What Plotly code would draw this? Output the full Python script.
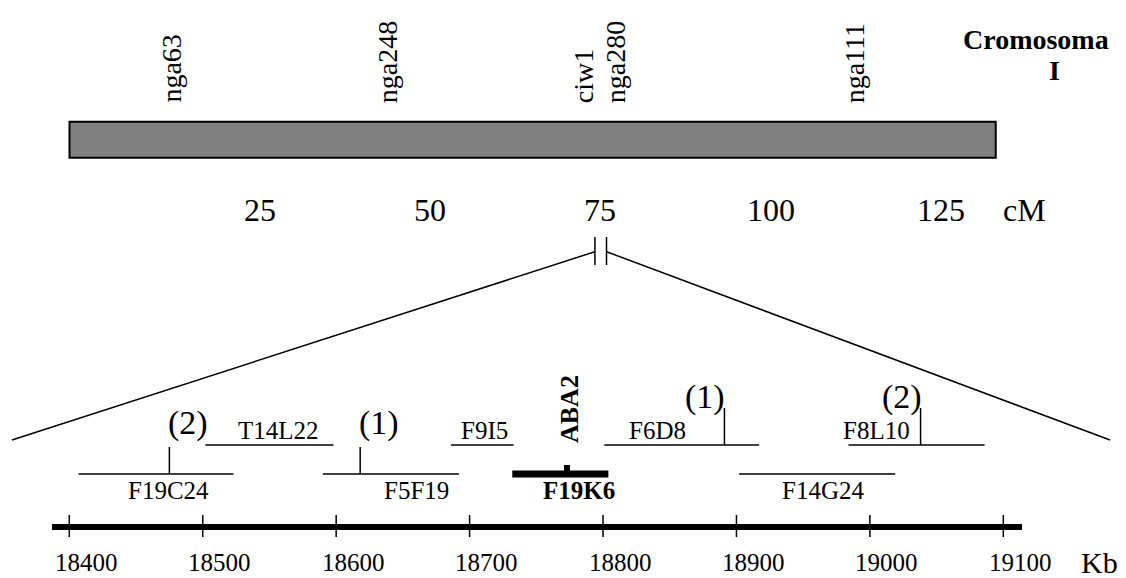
import plotly.graph_objects as go

# ---------------- Data ----------------
# Genetic map of chromosome I (cM)
CHROM_LENGTH_CM = 136
MARKER_NAMES = ["nga63", "nga248", "ciw1", "nga280", "nga111"]
MARKER_CM = [14.4, 46.2, 75.0, 79.7, 114.8]
CM_TICKS = [25, 50, 75, 100, 125]
BREAK_CM = 78.0

# Physical map (Kb)
KB_TICKS = [18400, 18500, 18600, 18700, 18800, 18900, 19000, 19100]
KB_AXIS = [18387, 19114]
ZOOM_KB = [18357, 19180]

UPPER_CLONES = ["T14L22", "F9I5", "F6D8", "F8L10"]
UPPER_START = [18502, 18686, 18801, 18984]
UPPER_END = [18598, 18733, 18917, 19086]
UPPER_LABEL_KB = [18557, 18711, 18841, 19005]

LOWER_CLONES = ["F19C24", "F5F19", "F19K6", "F14G24"]
LOWER_START = [18407, 18590, 18732, 18902]
LOWER_END = [18523, 18692, 18804, 19019]
LOWER_LABEL_KB = [18474, 18660, 18782, 18965]
LOWER_BOLD = [False, False, True, False]

RECOMB_LABELS = ["(2)", "(1)", "(1)", "(2)"]
RECOMB_KB = [18475, 18618, 18891, 19038]
RECOMB_ROW = ["lower", "lower", "upper", "upper"]

ABA2_KB = 18773

# ---------------- Layout constants ----------------
W, H = 1126, 578
KB_RANGE = [18348.06, 19191.95]
CM_RANGE = [-10.205, 155.13]
FONT = "Liberation Serif, Times New Roman, serif"

Y_MARKER_TEXT = 104
Y_BAR = [121.7, 157.8]
Y_CM_LABEL = 210
Y_BREAK = [237, 265]
Y_BREAK_MID = 251.7
Y_ZOOM_END = 440
Y_UPPER = 445
Y_LOWER = 474
Y_UPPER_LABEL = 430
Y_LOWER_LABEL = 490
Y_AXIS = 527
Y_TICK = [515, 537]
Y_TICK_LABEL = 562


def cm_to_kb(cm):
    frac = (cm - CM_RANGE[0]) / (CM_RANGE[1] - CM_RANGE[0])
    return KB_RANGE[0] + frac * (KB_RANGE[1] - KB_RANGE[0])


fig = go.Figure()


def line(xs, ys, width=1.5, xaxis="x"):
    fig.add_trace(go.Scatter(x=xs, y=ys, mode="lines", xaxis=xaxis, yaxis="y",
                             line=dict(color="black", width=width),
                             hoverinfo="skip", showlegend=False))


def text(x, y, t, size, xref="x", bold=False, angle=0, xanchor="center",
         yanchor="middle", xshift=0, yshift=0):
    fig.add_annotation(x=x, y=y, xref=xref, yref="y", text=t, showarrow=False,
                       textangle=angle, xanchor=xanchor, yanchor=yanchor,
                       xshift=xshift, yshift=yshift, borderpad=0,
                       font=dict(family=FONT, size=size, color="black",
                                 weight="bold" if bold else "normal"))


# ---- Chromosome bar ----
fig.add_shape(type="rect", xref="x2", yref="y", x0=0, x1=CHROM_LENGTH_CM,
              y0=Y_BAR[0], y1=Y_BAR[1], fillcolor="#808080",
              line=dict(color="black", width=2))
for name, cm in zip(MARKER_NAMES, MARKER_CM):
    line([cm, cm], Y_BAR, width=1.8, xaxis="x2")
    text(cm, Y_MARKER_TEXT, name, 28, xref="x2", angle=-90, yanchor="bottom",
         xshift=3)

for t in CM_TICKS:
    text(t, Y_CM_LABEL, str(t), 32, xref="x2", xshift=20)
text(CM_TICKS[-1], Y_CM_LABEL, "cM", 32, xref="x2", xshift=104)

text(1036 / W, 39, "Cromosoma", 28, xref="paper", bold=True)
text(1054 / W, 70, "I", 28, xref="paper", bold=True)

# ---- Break and zoom lines ----
gap = 0.85
line([BREAK_CM - gap] * 2, Y_BREAK, width=1.5, xaxis="x2")
line([BREAK_CM + gap] * 2, Y_BREAK, width=1.5, xaxis="x2")
line([cm_to_kb(BREAK_CM - gap), ZOOM_KB[0]], [Y_BREAK_MID, Y_ZOOM_END], width=1.5)
line([cm_to_kb(BREAK_CM + gap), ZOOM_KB[1]], [Y_BREAK_MID, Y_ZOOM_END], width=1.5)

# ---- Clones ----
for name, s, e, lx in zip(UPPER_CLONES, UPPER_START, UPPER_END, UPPER_LABEL_KB):
    line([s, e], [Y_UPPER, Y_UPPER], width=1.5)
    text(lx, Y_UPPER_LABEL, name, 25)

for name, s, e, lx, b in zip(LOWER_CLONES, LOWER_START, LOWER_END, LOWER_LABEL_KB, LOWER_BOLD):
    line([s, e], [Y_LOWER, Y_LOWER], width=7 if b else 1.5)
    text(lx, Y_LOWER_LABEL, name, 25, bold=b)

# ABA2 on F19K6
line([ABA2_KB, ABA2_KB], [Y_LOWER - 9, Y_LOWER], width=6)
text(ABA2_KB, 409, "ABA2", 26, bold=True, angle=-90, xshift=2)

# Recombinant markers
for lab, kb, row in zip(RECOMB_LABELS, RECOMB_KB, RECOMB_ROW):
    if row == "lower":
        line([kb, kb], [Y_LOWER, 447], width=1.5)
        text(kb, 423, lab, 34, xanchor="left", xshift=-2)
    else:
        line([kb, kb], [Y_UPPER, 408], width=1.5)
        text(kb, 397, lab, 34, xanchor="right", xshift=2)

# ---- Kb axis ----
line(KB_AXIS, [Y_AXIS, Y_AXIS], width=6)
for t in KB_TICKS:
    line([t, t], Y_TICK, width=1.5)
    text(t, Y_TICK_LABEL, str(t), 25, xshift=17)
text(KB_TICKS[-1], Y_TICK_LABEL, "Kb", 30, xshift=96)

fig.update_layout(
    width=W, height=H, margin=dict(l=0, r=0, t=0, b=0),
    paper_bgcolor="white", plot_bgcolor="white", showlegend=False,
    xaxis=dict(range=KB_RANGE, visible=False, fixedrange=True),
    xaxis2=dict(range=CM_RANGE, visible=False, overlaying="x", anchor="y",
                fixedrange=True),
    yaxis=dict(range=[H, 0], visible=False, fixedrange=True),
)

fig.write_html("out.html", config={"displayModeBar": False},
               post_script="document.body.style.margin='0px';document.body.style.overflow='hidden';")
